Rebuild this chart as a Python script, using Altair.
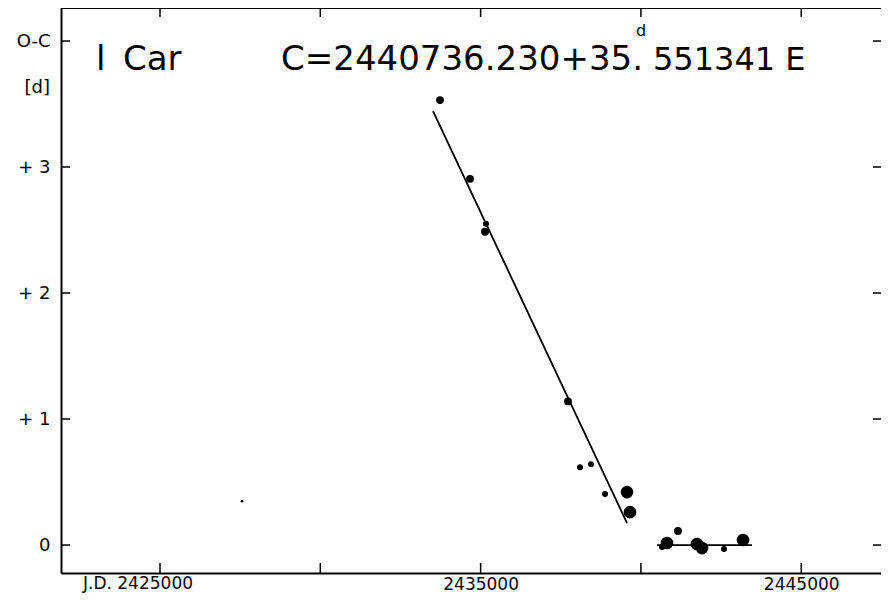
import altair as alt
import pandas as pd

# ---- data ----
obs_jd = [2433733, 2434669, 2435168, 2435137, 2437726, 2438100, 2438443, 2438880,
          2439566, 2439659, 2440657, 2440813, 2441156, 2441749, 2441905, 2442591,
          2443184, 2427558]
obs_oc = [3.531, 2.906, 2.549, 2.486, 1.140, 0.618, 0.641, 0.404,
          0.420, 0.261, -0.016, 0.016, 0.111, 0.008, -0.024, -0.032,
          0.040, 0.348]
obs_weight = [3, 3, 2, 3, 3, 2, 2, 2,
              4, 4, 2, 4, 3, 4, 4, 2,
              4, 1]

fit_jd = [2433515, 2439566, 2440501, 2443464]
fit_oc = [3.444, 0.174, 0.0, 0.0]
fit_seg = ["a", "a", "b", "b"]

x_ticks = [2425000, 2430000, 2435000, 2440000, 2445000]
x_labels = [2435000, 2445000]
y_ticks = [0, 1, 2, 3, 4]

W, H = 820, 565
FONT = "DejaVu Sans"

pts = pd.DataFrame({"jd": obs_jd, "oc": obs_oc, "w": obs_weight})
fit = pd.DataFrame({"jd": fit_jd, "oc": fit_oc, "seg": fit_seg})
xt = pd.DataFrame({"jd": x_ticks})
yt = pd.DataFrame({"oc": y_ticks})

xs = alt.Scale(domain=[2421912, 2447488], nice=False, zero=False)
ys = alt.Scale(domain=[-0.222, 4.262], nice=False, zero=False)

X = alt.X("jd:Q", scale=xs, axis=alt.Axis(
    values=x_labels, format="d", ticks=False, grid=False, title=None,
    domain=True, domainColor="black", domainWidth=2,
    labelFont=FONT, labelFontSize=17, labelColor="black", labelPadding=3,
    labelOverlap=False, labelFlush=False, labelBound=False))
Y = alt.Y("oc:Q", scale=ys, axis=alt.Axis(
    values=y_ticks, ticks=False, grid=False, title=None,
    domain=True, domainColor="black", domainWidth=2,
    labelExpr="datum.value == 4 ? 'O-C' : (datum.value == 0 ? '0' : '+ ' + datum.value)",
    labelFont=FONT, labelFontSize=18, labelColor="black", labelPadding=11,
    labelOverlap=False, labelFlush=False, labelBound=False))

points = alt.Chart(pts).mark_circle(color="black", opacity=1).encode(
    x=X, y=Y,
    size=alt.Size("w:Q", scale=alt.Scale(domain=[1, 2, 3, 4], range=[8, 36, 62, 160]), legend=None))

lines = alt.Chart(fit).mark_line(color="black", strokeWidth=1.8).encode(
    x=X, y=Y, detail="seg:N")

tick_style = dict(color="black", strokeWidth=1.5)
bot_ticks = alt.Chart(xt).mark_rule(**tick_style).encode(
    x=X, y=alt.value(H), y2=alt.value(H - 10))
top_ticks = alt.Chart(xt).mark_rule(**tick_style).encode(
    x=X, y=alt.value(0), y2=alt.value(9))
left_ticks = alt.Chart(yt).mark_rule(**tick_style).encode(
    y=Y, x=alt.value(0), x2=alt.value(9))
right_ticks = alt.Chart(yt).mark_rule(**tick_style).encode(
    y=Y, x=alt.value(W - 8), x2=alt.value(W))
top_line = alt.Chart(xt).mark_rule(color="black", strokeWidth=2).encode(
    y=alt.value(0), x=alt.value(0), x2=alt.value(W))

first_label = alt.Chart(pd.DataFrame({"jd": [2425000], "t": ["J.D. 2425000"]})).mark_text(
    font=FONT, fontSize=17, color="black", align="center", baseline="top", dx=-22).encode(
    x=X, y=alt.value(H + 3), text="t:N")

unit_label = alt.Chart(pd.DataFrame({"t": ["[d]"]})).mark_text(
    font=FONT, fontSize=18, color="black", align="right", baseline="middle").encode(
    x=alt.value(-11), y=alt.value(80), text="t:N")

def txt(s, x, y, size, align="left"):
    return alt.Chart(pd.DataFrame({"t": [s]})).mark_text(
        font=FONT, fontSize=size, color="black", align=align, baseline="alphabetic").encode(
        x=alt.value(x), y=alt.value(y), text="t:N")

title_parts = [
    txt("l", 35, 62, 34),
    txt("Car", 62, 62, 34),
    txt("C=2440736.230+35.", 582, 62, 34, "right"),
    txt("d", 580, 28, 16, "center"),
    txt("551341 E", 592, 62, 32),
]

chart = alt.layer(
    lines, points, bot_ticks, top_ticks, left_ticks, right_ticks, top_line,
    first_label, unit_label, *title_parts
).properties(
    width=W, height=H,
    autosize=alt.AutoSizeParams(type="none"),
    padding={"left": 53, "top": 0, "right": 0, "bottom": 22},
    background="white",
).configure_view(stroke=None)

chart.save("out.html", embed_options={"renderer": "svg", "actions": False})
